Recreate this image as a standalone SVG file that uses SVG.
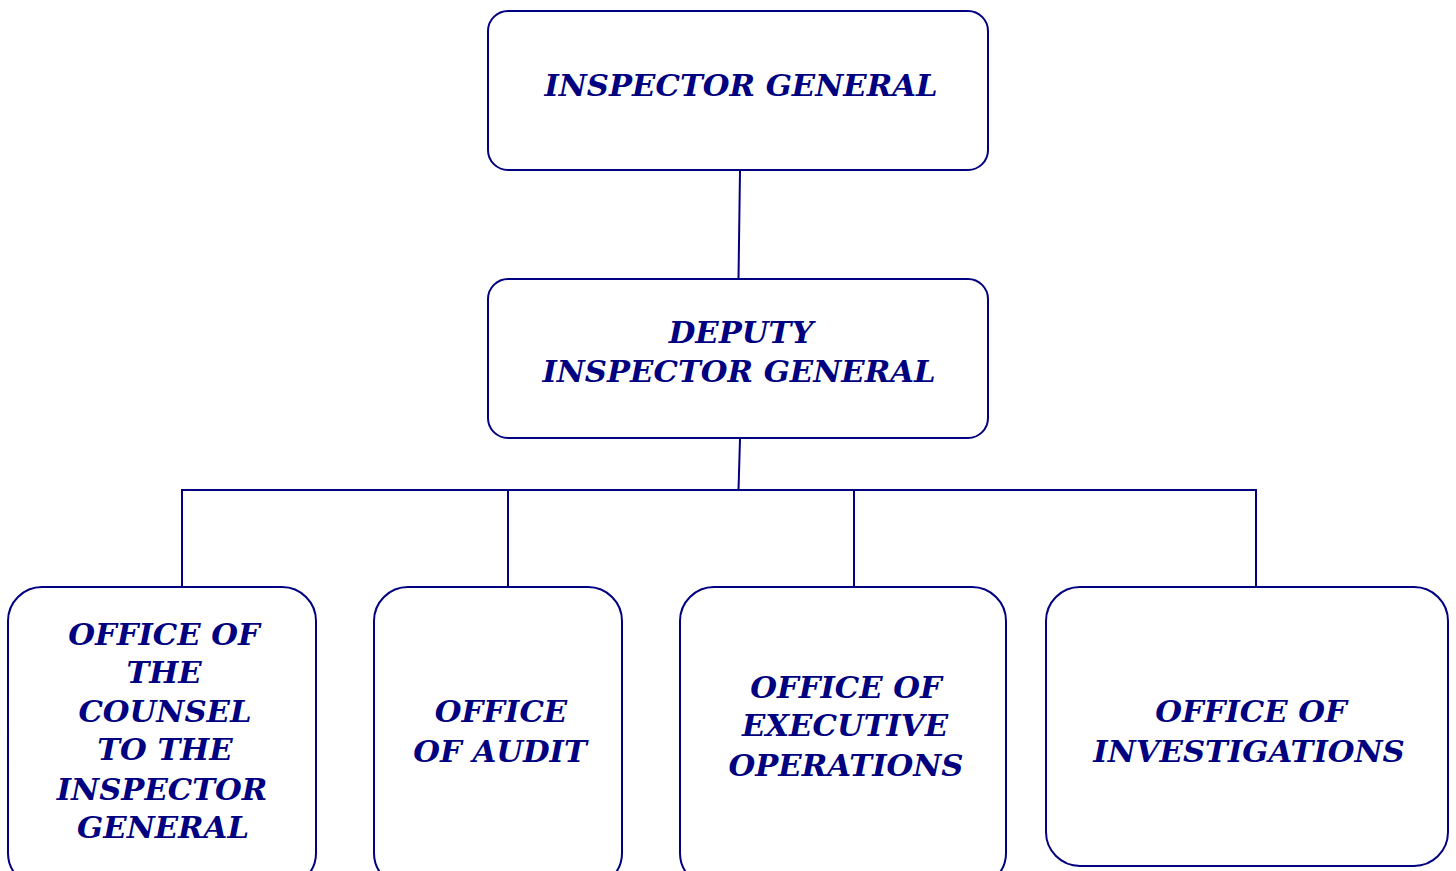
<svg xmlns="http://www.w3.org/2000/svg" width="1456" height="871" viewBox="0 0 1456 871">
  <style>
    .box { fill: #ffffff; stroke: #000080; stroke-width: 2; }
    .wire { fill: none; stroke: #000080; stroke-width: 2; }
    .lbl { font-family: "DejaVu Serif", "Liberation Serif", serif; font-weight: bold; font-style: italic; font-size: 30.7px; fill: #000080; text-anchor: middle; }
  </style>
  <rect width="1456" height="871" fill="#ffffff"/>

  <g id="connectors">
    <line class="wire" x1="740" y1="171" x2="738.5" y2="279"/>
    <line class="wire" x1="740" y1="439" x2="738.5" y2="490"/>
    <polyline class="wire" points="182,587 182,490 1256,490 1256,587"/>
    <line class="wire" x1="508" y1="490" x2="508" y2="587"/>
    <line class="wire" x1="854" y1="490" x2="854" y2="587"/>
  </g>

  <g id="inspector-general">
    <rect class="box" x="488" y="11" width="500" height="159" rx="20"/>
    <text class="lbl" x="741" y="96">INSPECTOR GENERAL</text>
  </g>

  <g id="deputy-inspector-general">
    <rect class="box" x="488" y="279" width="500" height="159" rx="20"/>
    <text class="lbl" x="741" y="343">DEPUTY</text>
    <text class="lbl" x="739" y="382">INSPECTOR GENERAL</text>
  </g>

  <g id="office-counsel">
    <rect class="box" x="8" y="587" width="308" height="300" rx="34"/>
    <text class="lbl" x="164" y="645">OFFICE OF</text>
    <text class="lbl" x="164" y="683">THE</text>
    <text class="lbl" x="165" y="722">COUNSEL</text>
    <text class="lbl" x="165" y="760">TO THE</text>
    <text class="lbl" x="162" y="800">INSPECTOR</text>
    <text class="lbl" x="163" y="838">GENERAL</text>
  </g>

  <g id="office-audit">
    <rect class="box" x="374" y="587" width="248" height="300" rx="34"/>
    <text class="lbl" x="501" y="722">OFFICE</text>
    <text class="lbl" x="500" y="762">OF AUDIT</text>
  </g>

  <g id="office-executive-operations">
    <rect class="box" x="680" y="587" width="326" height="300" rx="34"/>
    <text class="lbl" x="846" y="698">OFFICE OF</text>
    <text class="lbl" x="845" y="736">EXECUTIVE</text>
    <text class="lbl" x="846" y="776">OPERATIONS</text>
  </g>

  <g id="office-investigations">
    <rect class="box" x="1046" y="587" width="402" height="279" rx="34"/>
    <text class="lbl" x="1251" y="722">OFFICE OF</text>
    <text class="lbl" x="1249" y="762">INVESTIGATIONS</text>
  </g>
</svg>
